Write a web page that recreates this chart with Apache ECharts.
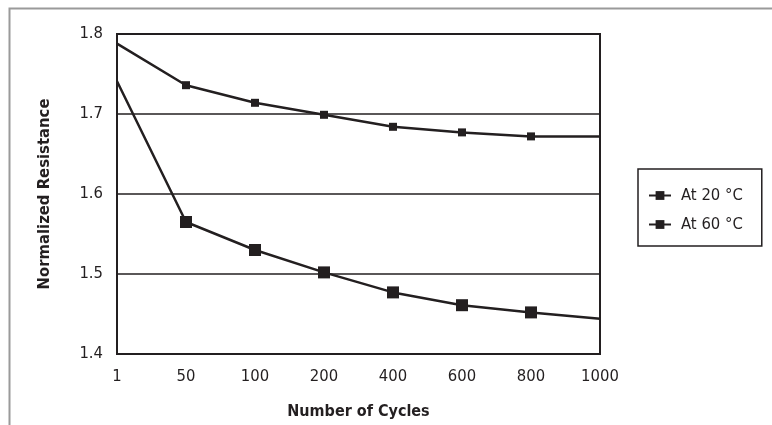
<!DOCTYPE html>
<html><head><meta charset="utf-8">
<script src="https://cdn.jsdelivr.net/npm/echarts@6/dist/echarts.min.js"></script>
<style>html,body{margin:0;padding:0;background:#fff;}#c{width:772px;height:425px;}</style>
</head><body><div id="c"></div>
<script>
const categories = ['1','50','100','200','400','600','800','1000'];
const at20 = [1.788, 1.736, 1.714, 1.699, 1.684, 1.677, 1.672, 1.672];
const at60 = [1.741, 1.565, 1.530, 1.502, 1.477, 1.461, 1.452, 1.444];
const yTicks = {min: 1.4, max: 1.8, interval: 0.1};
const seriesNames = ['At 20 °C', 'At 60 °C'];

const FONT = "'Liberation Sans Narrow', 'DejaVu Sans Condensed', 'Noto Sans', sans-serif";
const lastIdx = categories.length - 1;
// No marker on the first and last points (as in the reference)
const withMarkers = arr => arr.map((v, i) =>
  (i === 0 || i === lastIdx) ? {value: v, symbol: 'none'} : {value: v});

const chart = echarts.init(document.getElementById('c'));
chart.setOption({
  animation: false,
  textStyle: {fontFamily: FONT, color: '#231f20'},
  graphic: [{
    type: 'rect', left: 7, top: 6, silent: true,
    shape: {width: 800, height: 450},
    style: {fill: 'none', stroke: '#9a9a9a', lineWidth: 2}
  }],
  grid: {left: 117, right: 172, top: 34, bottom: 71, show: true, borderColor: '#231f20', borderWidth: 2, backgroundColor: 'transparent'},
  legend: {
    orient: 'vertical', left: 638, top: 169,
    data: seriesNames,
    itemWidth: 22, itemHeight: 11, itemGap: 12,
    padding: [18, 19, 13, 10],
    borderColor: '#231f20', borderWidth: 1.5,
    textStyle: {fontFamily: FONT, fontSize: 16.5, color: '#231f20', padding: [0,0,0,5]}
  },
  xAxis: {
    type: 'category', data: categories, boundaryGap: false,
    name: 'Number of Cycles', nameLocation: 'middle', nameGap: 50,
    nameTextStyle: {fontFamily: FONT, fontSize: 16, fontWeight: 'bold', color: '#231f20'},
    axisLine: {lineStyle: {color: '#231f20', width: 2}},
    axisTick: {show: false},
    axisLabel: {fontFamily: FONT, fontSize: 16.5, color: '#231f20', margin: 14},
    splitLine: {show: false}
  },
  yAxis: {
    type: 'value', min: yTicks.min, max: yTicks.max, interval: yTicks.interval,
    name: 'Normalized Resistance', nameLocation: 'middle', nameGap: 64,
    nameTextStyle: {fontFamily: FONT, fontSize: 16.5, fontWeight: 'bold', color: '#231f20'},
    axisLine: {show: true, lineStyle: {color: '#231f20', width: 2}},
    axisTick: {show: false},
    axisLabel: {fontFamily: FONT, fontSize: 16.5, color: '#231f20', margin: 14, formatter: v => v.toFixed(1)},
    splitLine: {show: true, lineStyle: {color: '#231f20', width: 1.5}}
  },
  series: [
    {name: seriesNames[0], type: 'line', data: withMarkers(at20), smooth: false,
     symbol: 'rect', symbolSize: 8, showAllSymbol: true,
     lineStyle: {color: '#231f20', width: 2.5}, itemStyle: {color: '#231f20'}},
    {name: seriesNames[1], type: 'line', data: withMarkers(at60), smooth: false,
     symbol: 'rect', symbolSize: 12, showAllSymbol: true,
     lineStyle: {color: '#231f20', width: 2.5}, itemStyle: {color: '#231f20'}}
  ]
});
</script></body></html>
